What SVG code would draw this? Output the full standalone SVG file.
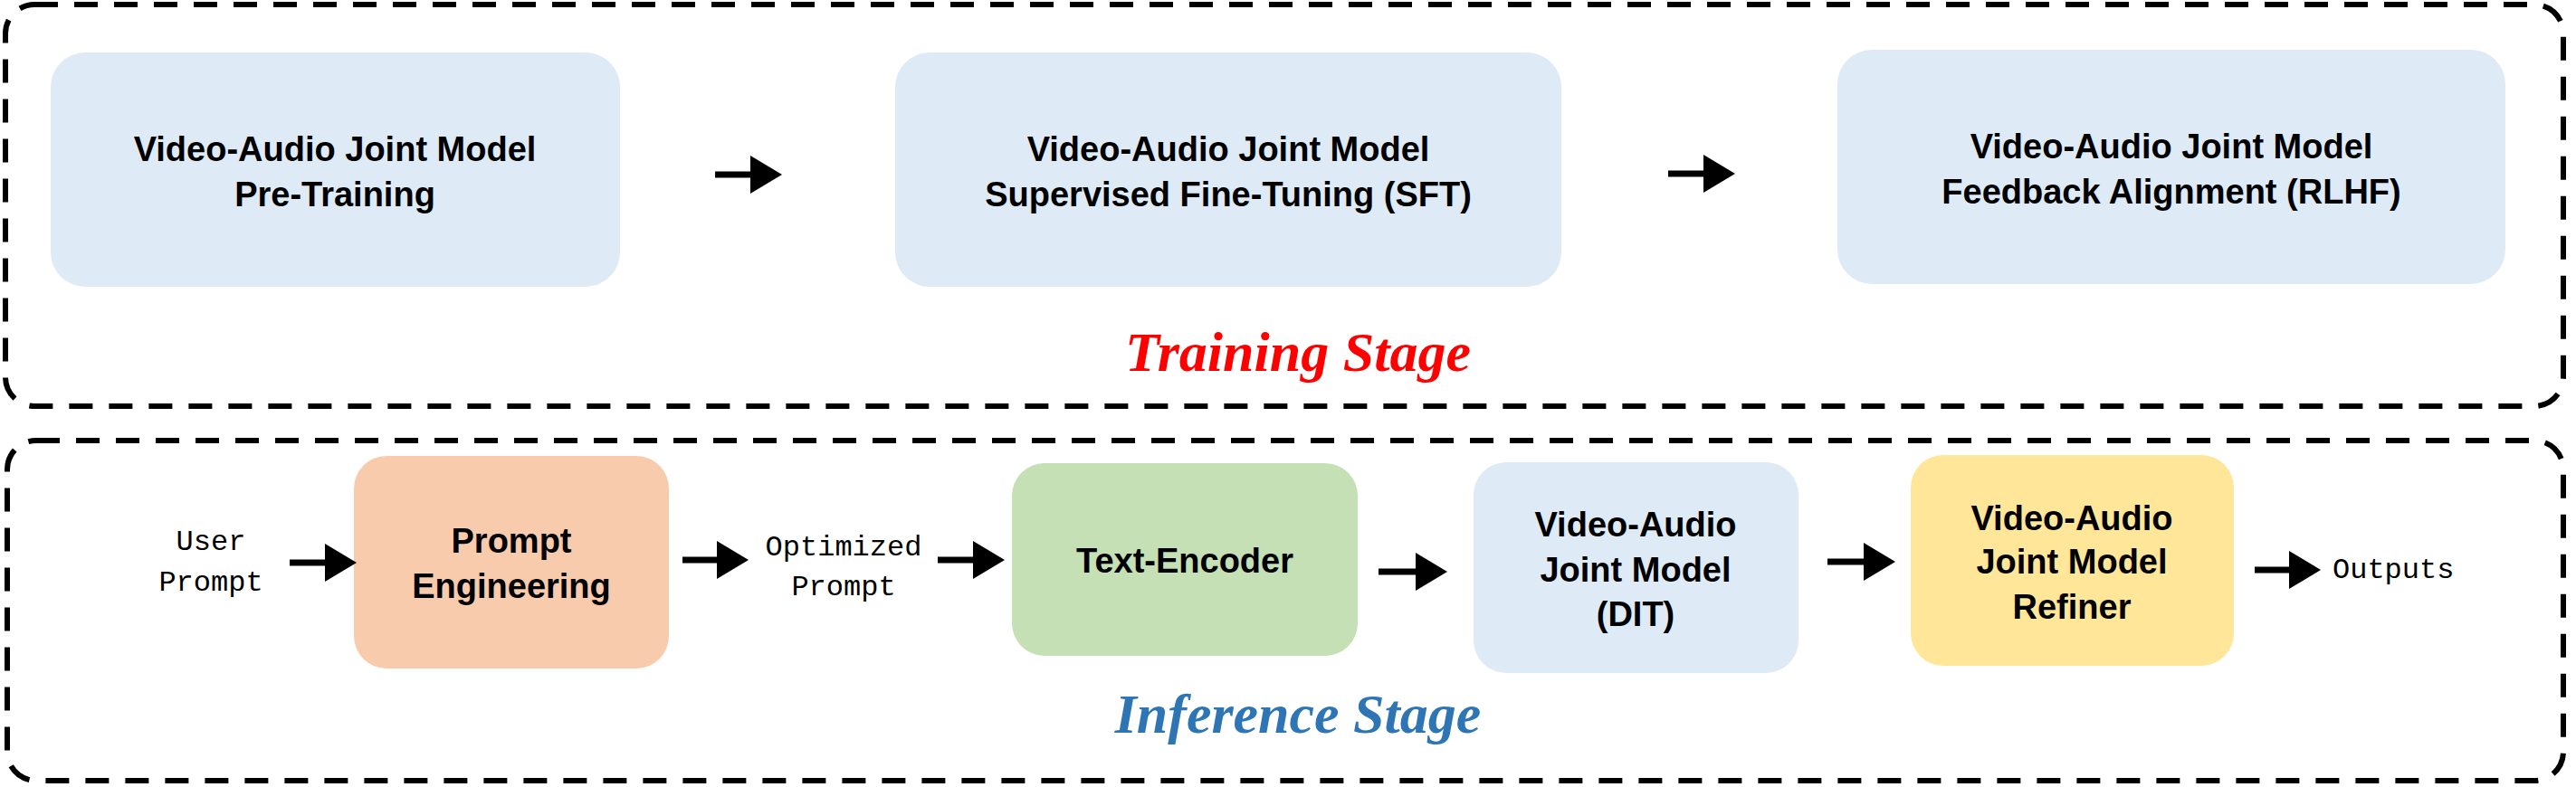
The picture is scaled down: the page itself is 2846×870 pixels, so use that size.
<svg xmlns="http://www.w3.org/2000/svg" width="2846" height="870" viewBox="0 0 2846 870">
<style>
.frame{fill:none;stroke:#000;stroke-width:6;stroke-dasharray:26 18}
.box{stroke:none}
.t{font-family:"Liberation Sans",Arial,sans-serif;font-weight:bold;font-size:38px;fill:#000;text-anchor:middle}
.m{font-family:"Liberation Mono","Courier New",monospace;font-size:32px;fill:#000;text-anchor:middle}
.stage{font-family:"Liberation Serif","Times New Roman",serif;font-weight:bold;font-style:italic;font-size:62px;text-anchor:middle}
.arr{stroke:#000;stroke-width:7;fill:none;marker-end:url(#ah)}
</style>
<defs>
<marker id="ah" markerWidth="6" markerHeight="6" refX="1" refY="3" orient="auto" markerUnits="strokeWidth" viewBox="0 0 6 6">
<path d="M0,0 L5,3 L0,6 Z" fill="#000"/>
</marker>
</defs>
<rect width="2846" height="870" fill="#fff"/>
<rect class="frame" x="6" y="5" width="2826" height="444" rx="32"/>
<rect class="frame" x="8" y="487" width="2824" height="376" rx="32"/>
<g id="train1"><rect class="box" x="56" y="58" width="629" height="259" rx="38" fill="#DEEBF7"/>
<text class="t" x="370" y="178">Video-Audio Joint Model</text><text class="t" x="370" y="228">Pre-Training</text></g>
<g id="train2"><rect class="box" x="989" y="58" width="736" height="259" rx="38" fill="#DEEBF7"/>
<text class="t" x="1357" y="178">Video-Audio Joint Model</text><text class="t" x="1357" y="228">Supervised Fine-Tuning (SFT)</text></g>
<g id="train3"><rect class="box" x="2030" y="55" width="738" height="259" rx="38" fill="#DEEBF7"/>
<text class="t" x="2399" y="175">Video-Audio Joint Model</text><text class="t" x="2399" y="225">Feedback Alignment (RLHF)</text></g>
<text class="stage" x="1434" y="410" fill="#FF0000">Training Stage</text>
<g id="user"><text class="m" x="233" y="608">User</text><text class="m" x="233" y="653">Prompt</text></g>
<g id="pe"><rect class="box" x="391" y="504" width="348" height="235" rx="36" fill="#F8CBAD"/>
<text class="t" x="565" y="611">Prompt</text><text class="t" x="565" y="661">Engineering</text></g>
<g id="opt"><text class="m" x="932" y="614">Optimized</text><text class="m" x="932" y="658">Prompt</text></g>
<g id="te"><rect class="box" x="1118" y="512" width="382" height="213" rx="36" fill="#C5E0B4"/>
<text class="t" x="1309" y="633">Text-Encoder</text></g>
<g id="dit"><rect class="box" x="1628" y="511" width="359" height="233" rx="36" fill="#DEEBF7"/>
<text class="t" x="1807" y="593">Video-Audio</text><text class="t" x="1807" y="643">Joint Model</text><text class="t" x="1807" y="692">(DIT)</text></g>
<g id="ref"><rect class="box" x="2111" y="503" width="357" height="233" rx="36" fill="#FFE699"/>
<text class="t" x="2289" y="586">Video-Audio</text><text class="t" x="2289" y="634">Joint Model</text><text class="t" x="2289" y="684">Refiner</text></g>
<g id="out"><text class="m" x="2577" y="639" style="text-anchor:start">Outputs</text></g>
<text class="stage" x="1434" y="810" fill="#2E75B6">Inference Stage</text>
<g id="connectors">
<line class="arr" x1="790" y1="193" x2="836" y2="193"/>
<line class="arr" x1="1843" y1="192" x2="1889" y2="192"/>
<line class="arr" x1="320" y1="622" x2="366" y2="622"/>
<line class="arr" x1="754" y1="619" x2="799" y2="619"/>
<line class="arr" x1="1036" y1="619" x2="1082" y2="619"/>
<line class="arr" x1="1523" y1="632" x2="1571" y2="632"/>
<line class="arr" x1="2019" y1="621" x2="2066" y2="621"/>
<line class="arr" x1="2491" y1="630" x2="2536" y2="630"/>
</g>
</svg>
